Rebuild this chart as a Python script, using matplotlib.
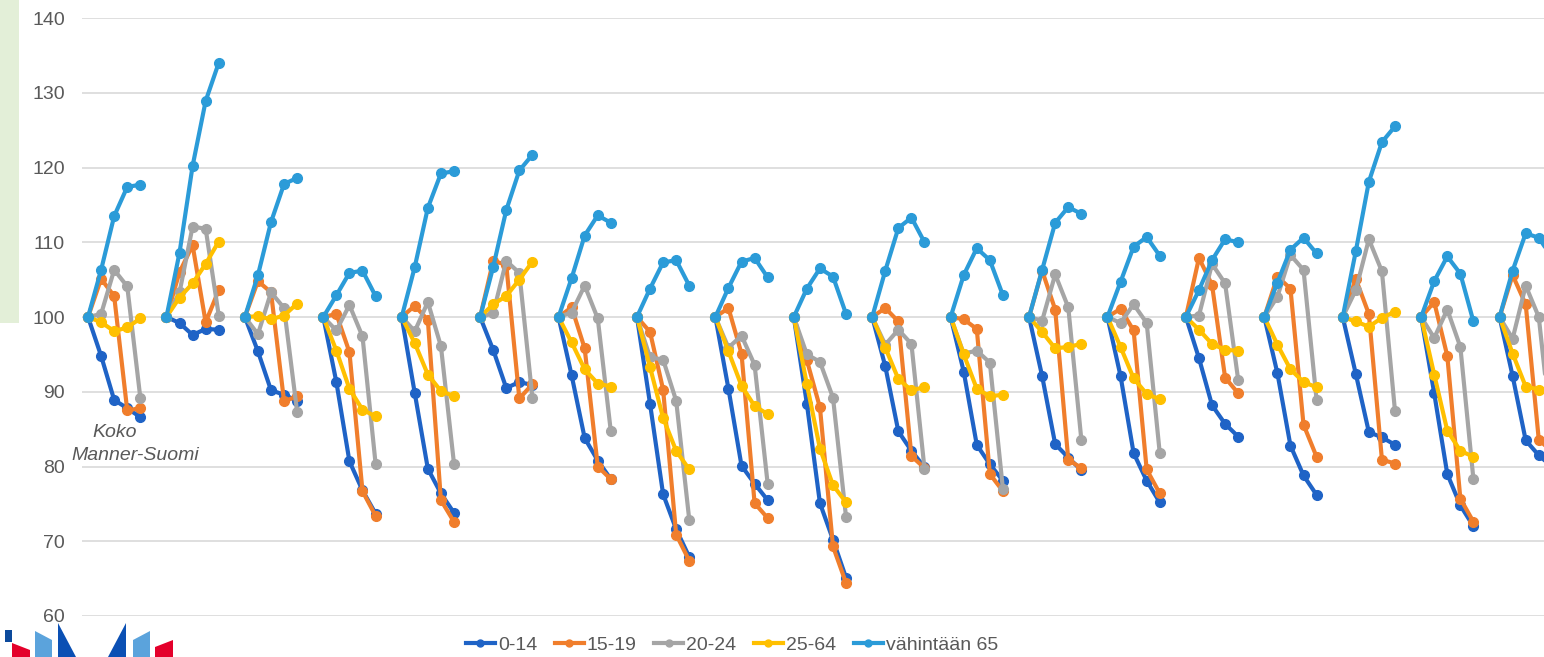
import numpy as np
import matplotlib
matplotlib.use("Agg")
import matplotlib.pyplot as plt
from matplotlib.patches import Polygon, Rectangle
from matplotlib.lines import Line2D

plt.rcParams['font.family'] = ['Liberation Sans', 'DejaVu Sans']

# ---- data: 19 groups (Koko Manner-Suomi + regions), 5 points each ----
series_names = ["0-14", "15-19", "20-24", "25-64", "vähintään 65"]

age_0_14 = [
    [100, 94.8, 88.9, 87.8, 86.6],
    [100, 99.2, 97.6, 98.4, 98.3],
    [100, 95.4, 90.2, 89.6, 88.8],
    [100, 91.3, 80.7, 76.8, 73.7],
    [100, 89.8, 79.7, 76.4, 73.8],
    [100, 95.6, 90.5, 91.3, 90.9],
    [100, 92.2, 83.8, 80.8, 78.3],
    [100, 88.4, 76.3, 71.6, 67.9],
    [100, 90.4, 80.1, 77.7, 75.5],
    [100, 88.4, 75.1, 70.2, 65.1],
    [100, 93.4, 84.7, 82.1, 79.9],
    [100, 92.7, 82.9, 80.3, 78.1],
    [100, 92.1, 83.0, 81.2, 79.5],
    [100, 92.1, 81.8, 78.1, 75.2],
    [100, 94.5, 88.2, 85.7, 84.0],
    [100, 92.5, 82.8, 78.8, 76.2],
    [100, 92.4, 84.6, 83.9, 82.9],
    [100, 89.8, 79.0, 74.8, 72.0],
    [100, 92.1, 83.5, 81.5, 80.0],
]
age_15_19 = [
    [100, 105.1, 102.8, 87.5, 87.8],
    [100, 106.0, 109.6, 99.3, 103.6],
    [100, 104.8, 103.3, 88.7, 89.4],
    [100, 100.4, 95.3, 76.7, 73.4],
    [100, 101.5, 99.6, 75.5, 72.6],
    [100, 107.5, 107.0, 89.1, 91.0],
    [100, 101.3, 95.8, 80.0, 78.3],
    [100, 98.0, 90.3, 70.9, 67.4],
    [100, 101.2, 95.1, 75.1, 73.1],
    [100, 94.2, 87.9, 69.3, 64.4],
    [100, 101.2, 99.4, 81.4, 79.8],
    [100, 99.7, 98.4, 79.0, 76.7],
    [100, 106.2, 101.0, 80.9, 79.8],
    [100, 101.1, 98.2, 79.6, 76.4],
    [100, 107.9, 104.3, 91.9, 89.8],
    [100, 105.4, 103.8, 85.6, 81.3],
    [100, 105.1, 100.4, 80.9, 80.4],
    [100, 102.0, 94.8, 75.7, 72.6],
    [100, 105.6, 101.7, 83.6, 82.0],
]
age_20_24 = [
    [100, 100.4, 106.3, 104.1, 89.2],
    [100, 103.3, 112.1, 111.8, 100.2],
    [100, 97.7, 103.3, 101.2, 87.3],
    [100, 98.2, 101.6, 97.4, 80.4],
    [100, 98.1, 102.0, 96.1, 80.4],
    [100, 100.5, 107.5, 105.9, 89.2],
    [100, 100.6, 104.2, 99.8, 84.7],
    [100, 94.6, 94.3, 88.8, 72.9],
    [100, 95.9, 97.5, 93.6, 77.7],
    [100, 95.0, 94.0, 89.2, 73.2],
    [100, 96.3, 98.3, 96.4, 79.7],
    [100, 95.1, 95.5, 93.9, 77.0],
    [100, 99.5, 105.7, 101.3, 83.6],
    [100, 99.2, 101.7, 99.2, 81.8],
    [100, 100.2, 107.1, 104.5, 91.6],
    [100, 102.7, 108.3, 106.3, 88.9],
    [100, 103.6, 110.4, 106.1, 87.4],
    [100, 97.2, 101.0, 96.0, 78.3],
    [100, 97.1, 104.2, 100.0, 84.0],
]
age_25_64 = [
    [100, 99.3, 98.1, 98.6, 99.8],
    [100, 102.6, 104.5, 107.1, 110.1],
    [100, 100.1, 99.7, 100.2, 101.8],
    [100, 95.5, 90.4, 87.6, 86.7],
    [100, 96.5, 92.3, 90.1, 89.4],
    [100, 101.7, 102.8, 105.0, 107.4],
    [100, 96.6, 93.0, 91.1, 90.7],
    [100, 93.3, 86.5, 82.1, 79.6],
    [100, 95.4, 90.8, 88.1, 87.0],
    [100, 91.0, 82.4, 77.5, 75.2],
    [100, 95.9, 91.7, 90.2, 90.6],
    [100, 95.0, 90.4, 89.4, 89.6],
    [100, 98.0, 95.8, 96.0, 96.4],
    [100, 96.0, 91.8, 89.7, 89.0],
    [100, 98.3, 96.4, 95.6, 95.5],
    [100, 96.3, 93.0, 91.3, 90.6],
    [100, 99.4, 98.7, 99.9, 100.7],
    [100, 92.3, 84.8, 82.1, 81.3],
    [100, 95.1, 90.7, 90.3, 90.0],
]
age_65_plus = [
    [100, 106.3, 113.5, 117.4, 117.7],
    [100, 108.6, 120.2, 128.9, 134.0],
    [100, 105.6, 112.7, 117.8, 118.6],
    [100, 102.9, 105.9, 106.2, 102.8],
    [100, 106.7, 114.6, 119.2, 119.5],
    [100, 106.7, 114.3, 119.6, 121.7],
    [100, 105.2, 110.9, 113.6, 112.6],
    [100, 103.8, 107.3, 107.6, 104.2],
    [100, 103.9, 107.4, 107.9, 105.3],
    [100, 103.8, 106.5, 105.4, 100.4],
    [100, 106.2, 111.9, 113.3, 110.0],
    [100, 105.6, 109.2, 107.6, 102.9],
    [100, 106.3, 112.6, 114.7, 113.8],
    [100, 104.7, 109.4, 110.7, 108.2],
    [100, 103.6, 107.6, 110.4, 110.0],
    [100, 104.6, 109.0, 110.6, 108.5],
    [100, 108.8, 118.1, 123.4, 125.5],
    [100, 104.8, 108.1, 105.8, 99.4],
    [100, 106.2, 111.2, 110.6, 108.0],
]
label_text = ["Koko", "Manner-Suomi"]

all_series = [age_0_14, age_15_19, age_20_24, age_25_64, age_65_plus]
colors = ["#1f63c6", "#f07e2c", "#a5a5a5", "#ffc000", "#2b9bd8"]

W, H = 1544, 657
fig = plt.figure(figsize=(W / 100, H / 100), dpi=100)

# slide decoration (green strip at left)
fig.patches.append(Rectangle((0, 1 - 323 / H), 19 / W, 323 / H, transform=fig.transFigure,
                             facecolor="#e3efd8", edgecolor="none", zorder=0))

ax = fig.add_axes([81.5 / W, 41 / H, 1 - 81.5 / W, 598 / H])
ax.set_facecolor("none")

slots = 6  # 5 points + 1 gap per group
for vals, col, name in zip(all_series, colors, series_names):
    xs, ys = [], []
    for g, grp in enumerate(vals):
        for k, v in enumerate(grp):
            xs.append(g * slots + k)
            ys.append(v)
        xs.append(g * slots + len(grp))
        ys.append(np.nan)
    ax.plot(xs, ys, color=col, lw=3, marker="o", ms=7, solid_capstyle="round",
            solid_joinstyle="round", label=name)

ax.set_ylim(60, 140)
ax.set_yticks(np.arange(60, 141, 10))
ax.set_xlim(-0.5, (W - 88) / 13.07)
ax.set_xticks([])
ax.grid(axis="y", color="#d9d9d9", lw=1.2)
ax.set_axisbelow(True)
for s in ax.spines.values():
    s.set_visible(False)
ax.tick_params(axis="y", length=0, pad=12, labelsize=14, labelcolor="#595959")

ax.text(2.05, 84.6, label_text[0], ha="center", va="center", fontsize=14,
        style="italic", color="#595959")
ax.text(3.6, 81.5, label_text[1], ha="center", va="center", fontsize=14,
        style="italic", color="#595959")

handles = [Line2D([0], [0], color=c, lw=3, marker="o", ms=5) for c in colors]
fig.legend(handles, series_names, loc="center", bbox_to_anchor=(0.474, 12 / H),
           ncol=5, frameon=False, fontsize=14, handlelength=1.5, handletextpad=0.15,
           columnspacing=0.9, labelcolor="#595959")

# logo decoration bottom-left
def poly(pts, color):
    fig.patches.append(Polygon([(x / W, 1 - y / H) for x, y in pts], closed=True,
                               transform=fig.transFigure, facecolor=color,
                               edgecolor="none", zorder=1))

poly([(5, 630), (12, 630), (12, 642), (5, 642)], "#0c4a9c")
poly([(12, 643), (30, 650), (30, 657), (12, 657)], "#e4002b")
poly([(35, 631), (52, 640), (52, 657), (35, 657)], "#5ba3dc")
poly([(58, 623), (76, 657), (58, 657)], "#0b50b4")
poly([(126, 623), (126, 657), (108, 657)], "#0b50b4")
poly([(150, 631), (133, 640), (133, 657), (150, 657)], "#5ba3dc")
poly([(173, 640), (155, 647), (155, 657), (173, 657)], "#e4002b")

fig.savefig("out.png", dpi=100)
